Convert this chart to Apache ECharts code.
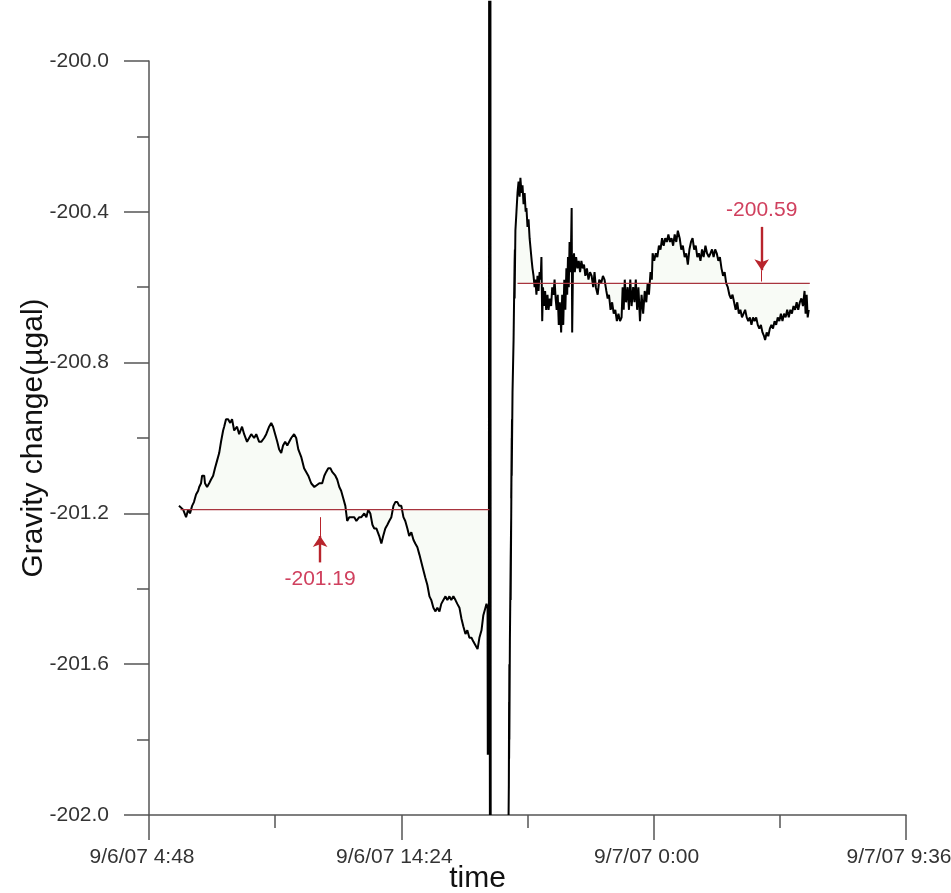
<!DOCTYPE html>
<html>
<head>
<meta charset="utf-8">
<script src="https://cdn.jsdelivr.net/npm/echarts@6/dist/echarts.min.js"></script>
<style>
  html, body { margin: 0; padding: 0; background: #fff; }
  #chart { width: 951px; height: 893px; }
</style>
</head>
<body>
<div id="chart"></div>
<script>
// x values are hours after 9/6/07 4:48; y values are gravity in µgal
const timeTickLabels = ['9/6/07 4:48', '9/6/07 14:24', '9/7/07 0:00', '9/7/07 9:36'];

// record before the disturbance
const gravityBefore = [
  [1.14,-201.18],[1.30,-201.19],[1.41,-201.21],[1.49,-201.19],[1.56,-201.20],[1.64,-201.18],[1.71,-201.17],
  [1.79,-201.15],[1.87,-201.14],[1.91,-201.13],[1.98,-201.12],[2.02,-201.10],[2.10,-201.10],[2.13,-201.12],
  [2.21,-201.13],[2.29,-201.12],[2.36,-201.11],[2.44,-201.10],[2.51,-201.08],[2.59,-201.06],[2.67,-201.04],
  [2.74,-201.01],[2.82,-200.98],[2.86,-200.97],[2.93,-200.95],[3.01,-200.95],[3.09,-200.96],[3.16,-200.95],
  [3.24,-200.98],[3.35,-200.97],[3.43,-200.99],[3.54,-200.97],[3.62,-200.99],[3.73,-201.01],[3.81,-201.00],
  [3.89,-200.99],[4.00,-201.00],[4.08,-200.99],[4.19,-201.01],[4.27,-201.01],[4.38,-201.00],[4.46,-200.99],
  [4.57,-200.97],[4.65,-200.96],[4.72,-200.97],[4.80,-200.99],[4.88,-201.01],[4.95,-201.03],[5.03,-201.04],
  [5.10,-201.02],[5.18,-201.01],[5.26,-201.02],[5.33,-201.02],[5.41,-201.00],[5.52,-200.99],[5.60,-201.00],
  [5.68,-201.03],[5.79,-201.05],[5.90,-201.08],[5.98,-201.09],[6.06,-201.10],[6.17,-201.12],[6.29,-201.13],
  [6.36,-201.13],[6.48,-201.12],[6.59,-201.12],[6.67,-201.10],[6.74,-201.09],[6.82,-201.08],[6.90,-201.08],
  [6.97,-201.09],[7.09,-201.10],[7.16,-201.11],[7.24,-201.13],[7.31,-201.14],[7.39,-201.16],[7.47,-201.18],
  [7.54,-201.22],[7.62,-201.21],[7.70,-201.21],[7.81,-201.21],[7.89,-201.22],[8.00,-201.21],[8.08,-201.21],
  [8.19,-201.20],[8.27,-201.21],[8.34,-201.19],[8.42,-201.20],[8.50,-201.23],[8.57,-201.24],[8.65,-201.24],
  [8.76,-201.26],[8.84,-201.28],[8.91,-201.26],[8.99,-201.24],[9.07,-201.23],[9.14,-201.22],[9.22,-201.21],
  [9.30,-201.18],[9.37,-201.17],[9.45,-201.17],[9.52,-201.18],[9.60,-201.18],[9.68,-201.21],[9.75,-201.22],
  [9.83,-201.24],[9.90,-201.26],[9.98,-201.25],[10.06,-201.27],[10.13,-201.28],[10.21,-201.29],[10.29,-201.31],
  [10.40,-201.34],[10.51,-201.37],[10.59,-201.39],[10.67,-201.42],[10.74,-201.43],[10.82,-201.45],[10.90,-201.46],
  [10.97,-201.45],[11.05,-201.46],[11.12,-201.44],[11.20,-201.43],[11.28,-201.42],[11.35,-201.43],[11.43,-201.42],
  [11.50,-201.43],[11.58,-201.42],[11.66,-201.43],[11.73,-201.44],[11.81,-201.45],[11.89,-201.48],[11.96,-201.50],
  [12.04,-201.52],[12.11,-201.51],[12.19,-201.53],[12.27,-201.53],[12.34,-201.54],[12.42,-201.55],[12.50,-201.56],
  [12.57,-201.53],[12.65,-201.51],[12.72,-201.47],[12.80,-201.45],[12.84,-201.44],[12.88,-201.45]
];

// disturbance and recovery (null marks the stretch that sits below the axis floor)
const gravityEvent = [
  [12.89,-201.84],[12.90,-201.47],[12.91,-201.83],[12.90,-201.50],[12.92,-201.84],[12.91,-201.46],[12.93,-201.84],
  [12.94,-199.84],[12.97,-202.00],[12.99,-199.84],[13.00,-202.00],[13.30,null],[13.68,-202.00],
  [13.69,-201.92],[13.70,-201.70],[13.69,-201.93],[13.71,-201.60],[13.70,-201.85],[13.72,-201.62],[13.71,-201.80],[13.73,-201.54],
  [13.76,-201.32],[13.78,-201.21],[13.76,-201.43],[13.80,-201.00],[13.78,-201.16],[13.81,-200.95],[13.80,-201.10],[13.83,-200.88],
  [13.87,-200.74],[13.89,-200.63],[13.91,-200.53],[13.92,-200.50],[13.91,-200.63],[13.94,-200.45]
];

// record after the disturbance
const gravityAfter = [
  [13.98,-200.40],[14.02,-200.35],[14.06,-200.32],[14.10,-200.36],[14.13,-200.31],[14.17,-200.35],[14.21,-200.33],
  [14.25,-200.38],[14.29,-200.35],[14.33,-200.40],[14.36,-200.39],[14.40,-200.44],[14.44,-200.42],[14.48,-200.47],
  [14.52,-200.50],[14.56,-200.53],[14.59,-200.55],[14.63,-200.57],[14.67,-200.60],[14.70,-200.58],[14.74,-200.62],
  [14.78,-200.57],[14.82,-200.61],[14.86,-200.56],[14.90,-200.58],[14.93,-200.52],[14.96,-200.69],[14.99,-200.60],
  [15.03,-200.65],[15.07,-200.61],[15.11,-200.66],[15.16,-200.62],[15.20,-200.66],[15.25,-200.63],[15.30,-200.65],
  [15.34,-200.60],[15.39,-200.62],[15.43,-200.58],[15.47,-200.63],[15.51,-200.66],[15.55,-200.62],[15.59,-200.70],
  [15.63,-200.64],[15.68,-200.72],[15.72,-200.62],[15.76,-200.70],[15.80,-200.58],[15.84,-200.66],[15.88,-200.55],
  [15.91,-200.62],[15.94,-200.52],[15.97,-200.60],[16.00,-200.48],[16.04,-200.56],[16.08,-200.39],[16.10,-200.72],
  [16.13,-200.55],[16.17,-200.51],[16.20,-200.56],[16.25,-200.52],[16.30,-200.55],[16.35,-200.53],[16.40,-200.56],
  [16.45,-200.53],[16.50,-200.55],[16.55,-200.54],[16.60,-200.57],[16.66,-200.55],[16.72,-200.58],[16.78,-200.56],
  [16.84,-200.57],[16.90,-200.60],[16.95,-200.56],[17.00,-200.60],[17.07,-200.62],[17.13,-200.58],[17.20,-200.59],
  [17.27,-200.57],[17.33,-200.58],[17.40,-200.61],[17.45,-200.63],[17.50,-200.62],[17.56,-200.66],[17.62,-200.64],
  [17.68,-200.67],[17.74,-200.66],[17.80,-200.69],[17.86,-200.67],[17.92,-200.69],[17.98,-200.68],[18.02,-200.60],
  [18.06,-200.66],[18.10,-200.58],[18.15,-200.64],[18.21,-200.60],[18.26,-200.66],[18.31,-200.58],[18.36,-200.65],
  [18.42,-200.60],[18.47,-200.64],[18.52,-200.58],[18.57,-200.66],[18.62,-200.60],[18.68,-200.69],[18.74,-200.62],
  [18.80,-200.67],[18.86,-200.61],[18.92,-200.64],[18.97,-200.59],[19.02,-200.62],[19.08,-200.56],[19.13,-200.58],
  [19.16,-200.51],[19.22,-200.53],[19.28,-200.51],[19.34,-200.52],[19.40,-200.49],[19.46,-200.50],[19.52,-200.47],
  [19.58,-200.49],[19.64,-200.47],[19.70,-200.48],[19.76,-200.46],[19.82,-200.48],[19.88,-200.47],[19.94,-200.49],
  [20.00,-200.46],[20.06,-200.48],[20.12,-200.45],[20.19,-200.47],[20.25,-200.50],[20.31,-200.49],[20.38,-200.52],
  [20.44,-200.51],[20.50,-200.54],[20.56,-200.50],[20.62,-200.48],[20.68,-200.47],[20.74,-200.50],[20.80,-200.49],
  [20.86,-200.52],[20.92,-200.51],[20.98,-200.53],[21.04,-200.50],[21.10,-200.52],[21.17,-200.49],[21.23,-200.51],
  [21.30,-200.52],[21.36,-200.51],[21.42,-200.50],[21.48,-200.52],[21.54,-200.50],[21.60,-200.51],[21.66,-200.53],
  [21.72,-200.52],[21.78,-200.55],[21.84,-200.57],[21.90,-200.56],[21.96,-200.59],[22.02,-200.60],[22.08,-200.62],
  [22.14,-200.63],[22.20,-200.62],[22.26,-200.64],[22.32,-200.66],[22.38,-200.64],[22.44,-200.67],[22.50,-200.66],
  [22.56,-200.68],[22.62,-200.67],[22.68,-200.66],[22.74,-200.68],[22.80,-200.69],[22.86,-200.68],[22.92,-200.70],
  [22.98,-200.68],[23.04,-200.69],[23.10,-200.68],[23.16,-200.70],[23.22,-200.71],[23.28,-200.70],[23.34,-200.72],
  [23.40,-200.73],[23.44,-200.74],[23.50,-200.72],[23.56,-200.73],[23.62,-200.71],[23.68,-200.70],[23.74,-200.71],
  [23.80,-200.69],[23.86,-200.70],[23.92,-200.68],[23.98,-200.69],[24.04,-200.67],[24.10,-200.69],[24.16,-200.67],
  [24.22,-200.68],[24.28,-200.66],[24.34,-200.68],[24.40,-200.66],[24.46,-200.67],[24.52,-200.65],[24.58,-200.66],
  [24.64,-200.64],[24.70,-200.66],[24.76,-200.64],[24.82,-200.63],[24.88,-200.65],[24.94,-200.61],[24.98,-200.67],
  [25.02,-200.62],[25.06,-200.68],[25.10,-200.66]
];

// mean level of each quiet period and the time span it covers
const meanLevels = [-201.19, -200.59];
const meanSpans = [[1.2, 12.95], [14.02, 25.14]];

// arrows pointing at each mean level: x, tail, arrow head, end of shaft
const meanArrows = [
  { x: 6.51,  tail: -201.33, head: -201.26, end: -201.21 },
  { x: 23.31, tail: -200.44, head: -200.555, end: -200.585 }
];

const FONT = 'Liberation Sans, Arial, Helvetica, sans-serif';
const AXIS_COLOR = '#555';
const LABEL_RED = '#d0405e';

const gravityAll = gravityBefore.concat(gravityEvent, gravityAfter);

function withinSpan(points, span) {
  return points.filter(p => p[0] >= span[0] - 0.05 && p[0] <= span[1] + 0.05);
}

const fillSeries = [gravityBefore, gravityAfter].map((pts, i) => ({
  type: 'line',
  data: withinSpan(pts, meanSpans[i]),
  showSymbol: false,
  silent: true,
  lineStyle: { width: 0, opacity: 0 },
  areaStyle: { origin: meanLevels[i], color: 'rgba(160, 210, 140, 0.11)' },
  z: 1
}));

const meanSeries = meanLevels.map((level, i) => {
  const a = meanArrows[i];
  return {
    type: 'line',
    data: [[meanSpans[i][0], level], [meanSpans[i][1], level]],
    showSymbol: false,
    silent: true,
    lineStyle: { color: '#a8343e', width: 1.3 },
    z: 4,
    markLine: {
      silent: true,
      animation: false,
      symbol: ['none', 'arrow'],
      symbolSize: 11,
      data: [
        [
          { coord: [a.x, a.tail], lineStyle: { color: '#b8242c', width: 2.4, type: 'solid' },
            label: { show: true, position: 'start', distance: 6,
                     formatter: () => level.toFixed(2),
                     color: LABEL_RED, fontSize: 21, fontFamily: FONT } },
          { coord: [a.x, a.head] }
        ],
        [
          { coord: [a.x, a.head], symbol: 'none', lineStyle: { color: '#b8242c', width: 1, type: 'solid' },
            label: { show: false } },
          { coord: [a.x, a.end], symbol: 'none' }
        ]
      ]
    }
  };
});

const chart = echarts.init(document.getElementById('chart'), null, { renderer: 'canvas' });

chart.setOption({
  animation: false,
  backgroundColor: '#fff',
  textStyle: { fontFamily: FONT },
  grid: { left: 149, right: 45, top: 61, bottom: 78, containLabel: false, outerBoundsMode: 'none' },
  xAxis: {
    type: 'value',
    min: 0,
    max: 28.8,
    interval: 9.6,
    name: 'time',
    nameLocation: 'middle',
    nameGap: 49,
    nameMoveOverlap: false,
    nameTextStyle: { fontSize: 30, lineHeight: 30, color: '#111', fontFamily: FONT, padding: [0, 100, 0, 0] },
    axisLine: { show: true, onZero: false, lineStyle: { color: AXIS_COLOR, width: 1.5 } },
    axisTick: { show: true, length: 25, lineStyle: { color: AXIS_COLOR, width: 1.5 } },
    minorTick: { show: true, splitNumber: 2, length: 13, lineStyle: { color: AXIS_COLOR, width: 1.5 } },
    splitLine: { show: false },
    minorSplitLine: { show: false },
    axisLabel: {
      margin: 32,
      fontSize: 21,
      color: '#333',
      fontFamily: FONT,
      padding: [0, 14, 0, 0],
      formatter: v => timeTickLabels[Math.round(v / 9.6)]
    }
  },
  yAxis: {
    type: 'value',
    min: -202,
    max: -200,
    interval: 0.4,
    name: 'Gravity change(µgal)',
    nameLocation: 'middle',
    nameGap: 100,
    nameMoveOverlap: false,
    nameTextStyle: { fontSize: 30, color: '#111', fontFamily: FONT },
    axisLine: { show: true, onZero: false, lineStyle: { color: AXIS_COLOR, width: 1.5 } },
    axisTick: { show: true, length: 25, lineStyle: { color: AXIS_COLOR, width: 1.5 } },
    minorTick: { show: true, splitNumber: 2, length: 12, lineStyle: { color: AXIS_COLOR, width: 1.5 } },
    splitLine: { show: false },
    minorSplitLine: { show: false },
    axisLabel: {
      margin: 40,
      fontSize: 21,
      color: '#333',
      fontFamily: FONT,
      formatter: v => v.toFixed(1)
    }
  },
  series: [
    ...fillSeries,
    {
      type: 'line',
      data: gravityAll,
      showSymbol: false,
      clip: false,
      connectNulls: false,
      silent: true,
      lineStyle: { color: '#000', width: 2 },
      z: 3
    },
    ...meanSeries
  ]
});
</script>
</body>
</html>
